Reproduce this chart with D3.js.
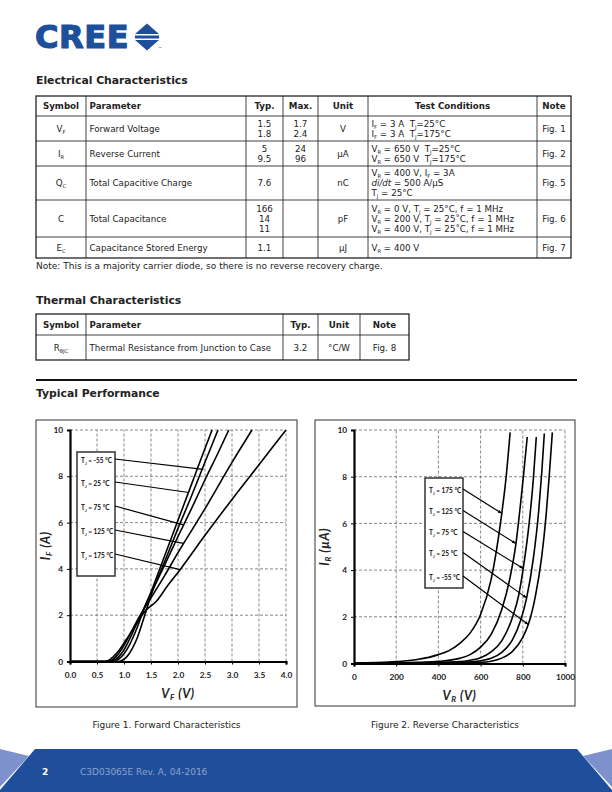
<!DOCTYPE html>
<html><head><meta charset="utf-8">
<script src="https://cdn.jsdelivr.net/npm/d3@7/dist/d3.min.js"></script>
<style>body{margin:0;background:#fff} text{white-space:pre}</style>
</head><body>
<svg id="page" width="612" height="792" xmlns="http://www.w3.org/2000/svg"></svg>
<script>
// ---------------- DATA ----------------
const elecHeaders = ["Symbol","Parameter","Typ.","Max.","Unit","Test Conditions","Note"];
const elecSymbols = ["V_{F}","I_{R}","Q_{C}","C","E_{C}"];
const elecParams  = ["Forward Voltage","Reverse Current","Total Capacitive Charge","Total Capacitance","Capacitance Stored Energy"];
const elecTyp     = [["1.5","1.8"],["5","9.5"],["7.6"],["166","14","11"],["1.1"]];
const elecMax     = [["1.7","2.4"],["24","96"],[],[],[]];
const elecUnit    = ["V","µA","nC","pF","µJ"];
const elecCond    = [
  ["I_{F} = 3 A  T_{J}=25°C","I_{F} = 3 A  T_{J}=175°C"],
  ["V_{R} = 650 V  T_{J}=25°C","V_{R} = 650 V  T_{J}=175°C"],
  ["V_{R} = 400 V, I_{F} = 3A","*di/dt* = 500 A/µS","T_{J} = 25°C"],
  ["V_{R} = 0 V, T_{J} = 25°C, f = 1 MHz","V_{R} = 200 V, T_{J} = 25˚C, f = 1 MHz","V_{R} = 400 V, T_{J} = 25˚C, f = 1 MHz"],
  ["V_{R} = 400 V"]
];
const elecNote    = ["Fig. 1","Fig. 2","Fig. 5","Fig. 6","Fig. 7"];
const elecFootnote = "Note: This is a majority carrier diode, so there is no reverse recovery charge.";

const thermHeaders = ["Symbol","Parameter","Typ.","Unit","Note"];
const thermRow     = ["R_{θJC}","Thermal Resistance from Junction to Case","3.2","°C/W","Fig. 8"];

// Figure 1 – forward characteristics (V_F [V], I_F [A])
const fwdTemps = ["-55","25","75","125","175"];
const fwdCurves = [
  [[0,0],[0.9,0],[0.95,0.03],[1.05,0.2],[1.15,0.55],[1.25,1.05],[1.35,1.75],[1.5,2.85],[1.75,4.3],[2.0,5.75],[2.25,7.15],[2.48,8.5],[2.74,10]],
  [[0,0],[0.8,0],[0.85,0.03],[0.95,0.2],[1.05,0.5],[1.15,0.95],[1.25,1.5],[1.35,2.15],[1.5,3.0],[1.75,4.55],[2.0,6.1],[2.25,7.65],[2.45,8.9],[2.63,10]],
  [[0,0],[0.75,0],[0.8,0.03],[0.9,0.2],[1.0,0.5],[1.1,0.95],[1.2,1.45],[1.35,2.2],[1.5,2.95],[1.75,4.15],[2.0,5.4],[2.25,6.6],[2.5,7.85],[2.75,9.05],[2.94,10]],
  [[0,0],[0.7,0],[0.75,0.03],[0.85,0.2],[0.95,0.5],[1.05,0.9],[1.15,1.35],[1.3,2.0],[1.5,2.75],[1.75,3.7],[2.0,4.7],[2.5,6.6],[3.0,8.6],[3.37,10]],
  [[0,0],[0.65,0],[0.7,0.03],[0.8,0.2],[0.9,0.45],[1.0,0.8],[1.1,1.15],[1.25,1.7],[1.4,2.2],[1.6,2.6],[1.8,3.25],[2.05,4.0],[2.5,5.45],[3.0,7.0],[3.5,8.5],[4.0,10]]
];
const fwdLeaderEnds = [[2.47,8.3],[2.2,7.3],[2.1,5.9],[2.1,5.1],[2.04,3.97]];
const fwdXTicks = [0,0.5,1,1.5,2,2.5,3,3.5,4];
const fwdYTicks = [0,2,4,6,8,10];

// Figure 2 – reverse characteristics (V_R [V], I_R [µA])
const revTemps = ["175","125","75","25","-55"];
const revCurves = [
  [[0,0.02],[100,0.04],[200,0.08],[300,0.17],[400,0.38],[450,0.55],[500,0.85],[550,1.3],[600,2.1],[650,3.6],[700,6.4],[720,7.9],[740,9.9]],
  [[0,0.01],[200,0.03],[300,0.05],[400,0.09],[500,0.22],[550,0.38],[600,0.7],[650,1.25],[700,2.3],[740,3.7],[767,5.1],[790,6.9],[805,8.2],[821,9.7]],
  [[0,0.01],[300,0.03],[400,0.05],[500,0.08],[550,0.14],[600,0.25],[650,0.5],[700,0.97],[750,1.95],[780,2.9],[802,4.07],[830,6.0],[850,7.9],[864,9.7]],
  [[0,0.01],[400,0.03],[500,0.05],[600,0.12],[650,0.22],[700,0.48],[750,1.0],[790,1.85],[818,2.8],[850,4.5],[875,6.5],[890,8.2],[902,9.85]],
  [[0,0.01],[500,0.02],[600,0.05],[650,0.1],[700,0.23],[750,0.51],[800,1.12],[826,1.67],[860,2.9],[890,4.6],[910,6.3],[925,8.0],[940,9.9]]
];
const revLeaderEnds = [[700,6.43],[767,5.14],[802,4.07],[818,2.81],[826,1.67]];
const revXTicks = [0,200,400,600,800,1000];
const revYTicks = [0,2,4,6,8,10];

// ---------------- DRAW ----------------
const svg = d3.select("#page");
const FONT = "'DejaVu Sans', Verdana, sans-serif";
const CFONT = "Lato, 'Liberation Sans', sans-serif";
const BLUE = "#1e4f9a";

function rich(sel, str, subScale) {
  const parts = str.split(/(_\{[^}]*\}|\*[^*]*\*)/g).filter(p => p);
  let shifted = false;
  parts.forEach(p => {
    if (p.startsWith("_{")) {
      sel.append("tspan").attr("dy", shifted ? 0 : 2).attr("font-size", (subScale || 0.6) + "em").text(p.slice(2, -1));
      shifted = true;
    } else {
      const t = sel.append("tspan").attr("dy", shifted ? -2 : 0);
      shifted = false;
      if (p.startsWith("*")) t.attr("font-style", "italic").text(p.slice(1, -1));
      else t.text(p);
    }
  });
}

// ---- Logo ----
svg.append("text").attr("x", 35).attr("y", 48).attr("font-family", FONT).attr("font-weight", "bold")
  .attr("font-size", 32).attr("fill", BLUE).attr("stroke", BLUE).attr("stroke-width", 1.2)
  .attr("letter-spacing", 0.6).text("CREE");
const lg = svg.append("g").attr("fill", BLUE);
lg.append("path").attr("d", "M135,34 L147,23.5 L159,34 Z");
lg.append("rect").attr("x", 135).attr("y", 35.5).attr("width", 24).attr("height", 3);
lg.append("path").attr("d", "M135,40 L147,50.5 L159,40 Z");
svg.append("text").attr("x", 158).attr("y", 50).attr("font-family", FONT).attr("font-size", 4).attr("fill", BLUE).text("™");

// ---- Section headings ----
function heading(txt, y) {
  svg.append("text").attr("x", 36).attr("y", y).attr("font-family", FONT).attr("font-weight", "bold")
    .attr("font-size", 10.8).attr("fill", "#222").text(txt);
}
heading("Electrical Characteristics", 84);
heading("Thermal Characteristics", 304);
heading("Typical Performance", 397);
svg.append("line").attr("x1", 36).attr("x2", 577).attr("y1", 380).attr("y2", 380).attr("stroke", "#111").attr("stroke-width", 2);

// ---- Generic table ----
function table(cols, hAlign, align, rowsY, headers, cells) {
  const g = svg.append("g").attr("font-family", FONT).attr("fill", "#222");
  const x0 = cols[0], x1 = cols[cols.length - 1];
  g.append("rect").attr("x", x0).attr("y", rowsY[0]).attr("width", x1 - x0).attr("height", rowsY[rowsY.length - 1] - rowsY[0])
    .attr("fill", "none").attr("stroke", "#111").attr("stroke-width", 1.2);
  cols.slice(1, -1).forEach(cx => g.append("line").attr("x1", cx).attr("x2", cx).attr("y1", rowsY[0]).attr("y2", rowsY[rowsY.length - 1]).attr("stroke", "#111").attr("stroke-width", 0.8));
  rowsY.slice(1, -1).forEach(ry => g.append("line").attr("x1", x0).attr("x2", x1).attr("y1", ry).attr("y2", ry).attr("stroke", "#111").attr("stroke-width", 0.8));
  function place(ci, ri, lines, bold, a) {
    const xx = a === "start" ? cols[ci] + 3.5 : (cols[ci] + cols[ci + 1]) / 2;
    const yc = (rowsY[ri] + rowsY[ri + 1]) / 2;
    const lh = 10;
    lines.forEach((ln, k) => {
      const t = g.append("text").attr("x", xx).attr("y", yc + (k - (lines.length - 1) / 2) * lh + 3.2)
        .attr("text-anchor", a).attr("font-size", 8.7).attr("font-weight", bold ? "bold" : "normal");
      rich(t, ln);
    });
  }
  headers.forEach((h, ci) => place(ci, 0, [h], true, hAlign[ci]));
  cells.forEach((row, ri) => row.forEach((c, ci) => place(ci, ri + 1, c, false, align[ci])));
}

const eCols = [36, 86, 246, 283, 318, 368, 537, 571];
const eHAlign = ["middle", "start", "middle", "middle", "middle", "middle", "middle"];
const eAlign = ["middle", "start", "middle", "middle", "middle", "start", "middle"];
const eRows = [96, 116, 141, 166, 200, 237, 258];
const eCells = elecSymbols.map((s, i) => [[s], [elecParams[i]], elecTyp[i], elecMax[i], [elecUnit[i]], elecCond[i], [elecNote[i]]]);
table(eCols, eHAlign, eAlign, eRows, elecHeaders, eCells);
svg.append("text").attr("x", 36).attr("y", 269).attr("font-family", FONT).attr("font-size", 9).attr("fill", "#222").text(elecFootnote);

table([36, 86, 283, 318, 360, 409], ["middle", "start", "middle", "middle", "middle"], ["middle", "start", "middle", "middle", "middle"],
  [314, 335, 360], thermHeaders, [thermRow.map(v => [v])]);

// ---- Figures ----
function figure(cfg) {
  const g = svg.append("g");
  g.append("rect").attr("x", cfg.frame[0]).attr("y", cfg.frame[1]).attr("width", cfg.frame[2] - cfg.frame[0])
    .attr("height", cfg.frame[3] - cfg.frame[1]).attr("fill", "none").attr("stroke", "#333").attr("stroke-width", 1);
  const x = d3.scaleLinear().domain(cfg.xDomain).range([cfg.left, cfg.right]);
  const y = d3.scaleLinear().domain(cfg.yDomain).range([cfg.bottom, cfg.top]);
  const grid = g.append("g").attr("stroke", "#555").attr("stroke-width", 0.7).attr("stroke-dasharray", "3,2");
  grid.selectAll(".vx").data(cfg.xTicks.slice(1)).join("line").attr("x1", d => x(d)).attr("x2", d => x(d))
    .attr("y1", cfg.bottom).attr("y2", cfg.top);
  grid.selectAll(".hy").data(cfg.yTicks.slice(1)).join("line").attr("y1", d => y(d)).attr("y2", d => y(d))
    .attr("x1", cfg.left).attr("x2", cfg.right);

  const xa = g.append("g").attr("transform", `translate(0,${cfg.bottom})`)
    .call(d3.axisBottom(x).tickValues(cfg.xTicks).tickFormat(cfg.xFmt).tickSize(3).tickPadding(8));
  const ya = g.append("g").attr("transform", `translate(${cfg.left},0)`)
    .call(d3.axisLeft(y).tickValues(cfg.yTicks).tickFormat(d3.format("d")).tickSize(3).tickPadding(4));
  [xa, ya].forEach(a => {
    a.select(".domain").attr("stroke", "#000").attr("stroke-width", 2.2);
    a.selectAll(".tick line").attr("stroke", "#000");
    a.selectAll(".tick text").attr("font-family", CFONT).attr("font-weight", "bold").attr("font-size", 8.3).attr("fill", "#222");
  });

  const line = d3.line().x(d => x(d[0])).y(d => y(d[1])).curve(d3.curveMonotoneX);
  g.append("g").selectAll("path").data(cfg.curves).join("path").attr("d", line)
    .attr("fill", "none").attr("stroke", "#000").attr("stroke-width", 1.6);

  // legend box
  const lb = cfg.legend;
  g.append("rect").attr("x", lb.x).attr("y", lb.y).attr("width", lb.w).attr("height", lb.h)
    .attr("fill", "#fff").attr("stroke", "#333").attr("stroke-width", 1.5);
  cfg.temps.forEach((t, i) => {
    const ly = lb.ys[i];
    const tx = g.append("text").attr("x", lb.x + 4).attr("y", ly + 2.5).attr("font-family", CFONT)
      .attr("font-weight", "bold").attr("font-size", 6.5).attr("fill", "#111");
    rich(tx, `T_{J} = ${t} °C`);
    const e = cfg.leaderEnds[i];
    g.append("line").attr("x1", lb.x + lb.w).attr("y1", ly - 1).attr("x2", x(e[0])).attr("y2", y(e[1]))
      .attr("stroke", "#000").attr("stroke-width", 1.2);
    if (cfg.arrows) {
      const ang = Math.atan2(y(e[1]) - (ly - 1), x(e[0]) - (lb.x + lb.w));
      const ex = x(e[0]), ey = y(e[1]);
      const a1 = ang + Math.PI - 0.4, a2 = ang + Math.PI + 0.4;
      g.append("path").attr("d", `M${ex},${ey} L${ex + 4 * Math.cos(a1)},${ey + 4 * Math.sin(a1)} L${ex + 4 * Math.cos(a2)},${ey + 4 * Math.sin(a2)} Z`).attr("fill", "#000");
    }
  });

  // axis titles
  const xt = g.append("text").attr("x", (cfg.left + cfg.right) / 2).attr("y", cfg.bottom + 36).attr("text-anchor", "middle")
    .attr("font-family", CFONT).attr("font-weight", "bold").attr("font-style", "italic").attr("font-size", 12.5)
    .attr("letter-spacing", 0.6).attr("fill", "#222");
  rich(xt, cfg.xTitle, 0.65);
  const yt = g.append("text").attr("transform", `translate(${cfg.frame[0] + 14},${(cfg.top + cfg.bottom) / 2}) rotate(-90)`)
    .attr("text-anchor", "middle").attr("font-family", CFONT).attr("font-weight", "bold").attr("font-style", "italic")
    .attr("font-size", 12.5).attr("letter-spacing", 0.6).attr("fill", "#222");
  rich(yt, cfg.yTitle, 0.65);

  svg.append("text").attr("x", (cfg.frame[0] + cfg.frame[2]) / 2).attr("y", 728).attr("text-anchor", "middle")
    .attr("font-family", FONT).attr("font-size", 9).attr("fill", "#222").text(cfg.caption);
}

figure({
  frame: [36, 420, 297, 707], left: 70, right: 286, top: 430, bottom: 661.5,
  xDomain: [0, 4], yDomain: [0, 10], xTicks: fwdXTicks, yTicks: fwdYTicks, xFmt: d3.format(".1f"),
  curves: fwdCurves, temps: fwdTemps, leaderEnds: fwdLeaderEnds, arrows: false,
  legend: { x: 77, y: 452, w: 38, h: 124, ys: [460, 483, 507, 531, 555] },
  xTitle: "V_{F} (V)", yTitle: "I_{F} (A)", caption: "Figure 1. Forward Characteristics"
});
figure({
  frame: [315, 420, 575, 706], left: 354, right: 565, top: 430, bottom: 663.5,
  xDomain: [0, 1000], yDomain: [0, 10], xTicks: revXTicks, yTicks: revYTicks, xFmt: d3.format("d"),
  curves: revCurves, temps: revTemps, leaderEnds: revLeaderEnds, arrows: true,
  legend: { x: 425, y: 478, w: 38, h: 110, ys: [490, 511.5, 532.5, 553.5, 577] },
  xTitle: "V_{R} (V)", yTitle: "I_{R} (µA)", caption: "Figure 2. Reverse Characteristics"
});

// ---- Footer ----
svg.append("path").attr("d", "M0,792 L0,790 L35,749 L577,749 L612,790 L612,792 Z").attr("fill", "#1f4f9b");
svg.append("path").attr("d", "M0,749 L29,756 L0,787 Z").attr("fill", "#7f91cc");
svg.append("path").attr("d", "M612,749 L583,756 L612,787 Z").attr("fill", "#7f91cc");
svg.append("text").attr("x", 42).attr("y", 775).attr("font-family", FONT).attr("font-weight", "bold").attr("font-size", 9).attr("fill", "#fff").text("2");
svg.append("text").attr("x", 80).attr("y", 775).attr("font-family", FONT).attr("font-size", 9).attr("fill", "#8ea2cc").text("C3D03065E Rev. A, 04-2016");
</script>
</body></html>
